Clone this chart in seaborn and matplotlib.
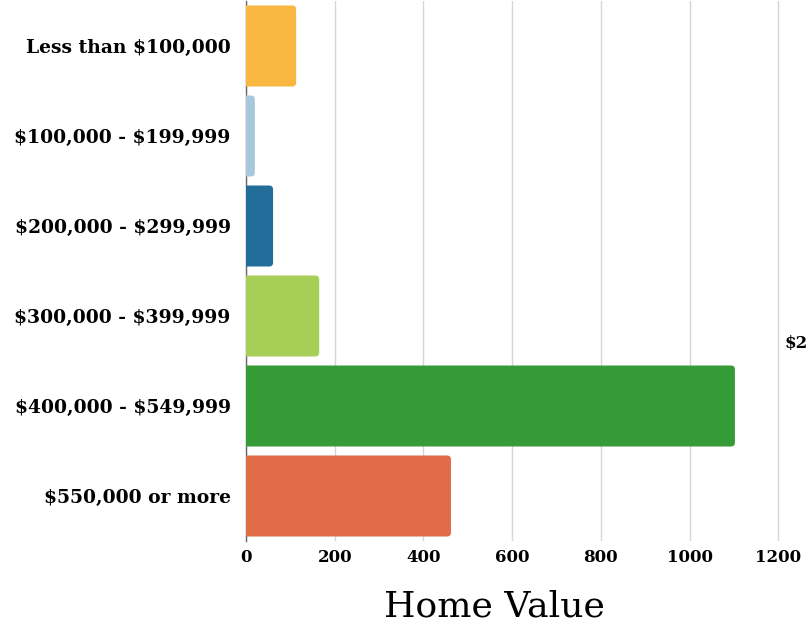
import matplotlib
matplotlib.use('Agg')
import matplotlib.pyplot as plt
from matplotlib.patches import FancyBboxPatch
import seaborn as sns
import pandas as pd

# data
categories = ['Less than $100,000', '$100,000 - $199,999', '$200,000 - $299,999',
              '$300,000 - $399,999', '$400,000 - $549,999', '$550,000 or more']
counts = [113, 20, 61, 165, 1102, 462]
colors = ['#F9B641', '#A6C8DA', '#236D9B', '#A7CF57', '#349B36', '#E06C47']

df = pd.DataFrame({'range': categories, 'count': counts})

sns.set_style('white')
plt.rcParams['font.family'] = ['DejaVu Serif']
plt.rcParams['text.parse_math'] = False
plt.rcParams['text.color'] = 'black'
plt.rcParams['xtick.color'] = 'black'
plt.rcParams['ytick.color'] = 'black'
plt.rcParams['axes.labelcolor'] = 'black'

fig = plt.figure(figsize=(8.09, 6.25), dpi=100)
ax = fig.add_axes([246 / 809, 1 - 541 / 625, (809 - 246) / 809, 540 / 625])

sns.barplot(data=df, y='range', x='count', hue='range', palette=colors,
            legend=False, width=0.9, saturation=1, ax=ax, zorder=3)

ax.set_xlim(0, 1269)

# rounded bar ends
r = 9.0
for p in list(ax.patches):
    x, y = p.get_x(), p.get_y()
    w, h = p.get_width(), p.get_height()
    fc = p.get_facecolor()
    p.remove()
    ax.add_patch(FancyBboxPatch((x - r, y), w + r, h,
                                boxstyle='round,pad=0,rounding_size=%g' % r,
                                mutation_aspect=0.0049, facecolor=fc,
                                edgecolor='none', zorder=3))

ax.set_xticks([0, 200, 400, 600, 800, 1000, 1200])
ax.grid(axis='x', color='#d6d6d6', linewidth=1, zorder=0)
ax.set_axisbelow(True)
for s in ['top', 'right', 'bottom']:
    ax.spines[s].set_visible(False)
ax.spines['left'].set_color('#666666')
ax.spines['left'].set_linewidth(1)
ax.tick_params(axis='both', length=0)
ax.tick_params(axis='y', pad=11)
ax.tick_params(axis='x', pad=6)
for lab in ax.get_yticklabels():
    lab.set_fontweight('bold')
    lab.set_fontsize(13.5)
for lab in ax.get_xticklabels():
    lab.set_fontweight('bold')
    lab.set_fontsize(12)
ax.set_ylabel('')
ax.set_xlabel('Home Value', fontsize=26)
ax.xaxis.set_label_coords((494 - 246) / (809 - 246), -0.09)

fig.text(785 / 809, 1 - 343 / 625, '$2', fontsize=12, fontweight='bold',
         va='center', ha='left')

fig.savefig('out.png', dpi=100)
